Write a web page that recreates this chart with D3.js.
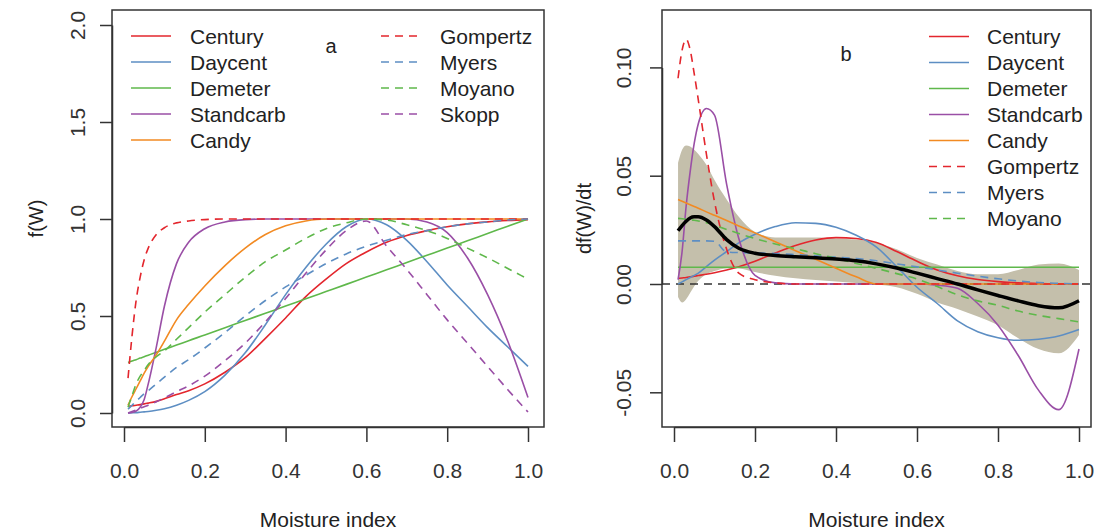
<!DOCTYPE html>
<html>
<head>
<meta charset="utf-8">
<script src="https://cdn.jsdelivr.net/npm/d3@7"></script>
<style>
body { margin: 0; background: #fff; }
text { font-family: "Liberation Sans", Arial, sans-serif; fill: #222; }
</style>
</head>
<body>
<div id="chart"></div>
<script>
// moisture index grid (shared by every curve)
var xs = [0.01, 0.02, 0.03, 0.04, 0.05, 0.06, 0.08, 0.10, 0.13, 0.16, 0.20, 0.25, 0.30, 0.35, 0.40,
          0.45, 0.50, 0.55, 0.60, 0.65, 0.70, 0.75, 0.80, 0.85, 0.90, 0.95, 1.00]

// panel a : f(W)
var centuryA   = [0.035,0.037,0.040,0.043,0.047,0.051,0.060,0.073,0.095,0.115,0.150,0.210,0.285,0.385,0.490,0.600,0.690,0.770,0.830,0.880,0.915,0.940,0.960,0.975,0.985,0.992,0.997]
var daycentA   = [0.000,0.001,0.002,0.004,0.006,0.008,0.014,0.022,0.040,0.065,0.110,0.195,0.310,0.455,0.610,0.750,0.870,0.960,1.000,0.970,0.890,0.780,0.660,0.550,0.440,0.340,0.240]
var demeterA   = [0.260,0.268,0.275,0.283,0.290,0.298,0.313,0.328,0.350,0.373,0.402,0.440,0.477,0.514,0.551,0.589,0.626,0.663,0.701,0.738,0.776,0.813,0.850,0.888,0.925,0.963,1.000]
var standcarbA = [0.000,0.003,0.010,0.030,0.070,0.150,0.340,0.550,0.770,0.880,0.950,0.985,0.997,1,1,1,1,1,1,1,1,0.985,0.930,0.800,0.610,0.370,0.080]
var candyA     = [0.040,0.085,0.125,0.165,0.205,0.240,0.300,0.370,0.480,0.560,0.655,0.760,0.850,0.920,0.965,0.990,1,1,1,1,1,1,1,1,1,1,1]
var gompertzA  = [0.180,0.400,0.580,0.700,0.790,0.850,0.920,0.955,0.980,0.990,0.997,1,1,1,1,1,1,1,1,1,1,1,1,1,1,1,1]
var myersA     = [0.020,0.040,0.060,0.080,0.100,0.115,0.150,0.185,0.235,0.275,0.335,0.415,0.500,0.580,0.650,0.710,0.770,0.820,0.860,0.890,0.920,0.940,0.960,0.975,0.985,0.995,1.000]
var moyanoA    = [0.030,0.090,0.150,0.190,0.220,0.250,0.290,0.320,0.380,0.440,0.520,0.610,0.700,0.780,0.840,0.900,0.950,0.980,1.000,0.995,0.970,0.940,0.900,0.850,0.800,0.745,0.690]
var skoppA     = [0.000,0.008,0.016,0.024,0.032,0.040,0.058,0.078,0.110,0.140,0.190,0.270,0.360,0.470,0.590,0.720,0.840,0.940,0.990,0.860,0.740,0.610,0.480,0.360,0.240,0.120,0.005]

// panel b : df(W)/dt
var centuryB   = [0.0026,0.0028,0.0030,0.0033,0.0036,0.0039,0.0045,0.0052,0.0065,0.0080,0.0105,0.0143,0.0178,0.0203,0.0214,0.0210,0.0192,0.0150,0.0105,0.0065,0.0038,0.0021,0.0011,0.0005,0.0002,0.0001,0.0000]
var daycentB   = [0.000,0.001,0.002,0.003,0.004,0.005,0.008,0.011,0.015,0.019,0.023,0.0265,0.0283,0.028,0.0262,0.0225,0.017,0.008,-0.0015,-0.009,-0.017,-0.022,-0.0248,-0.026,-0.0255,-0.024,-0.021]
var demeterB   = [0.0077,0.0077,0.0077,0.0077,0.0077,0.0077,0.0077,0.0077,0.0077,0.0077,0.0077,0.0077,0.0077,0.0077,0.0077,0.0077,0.0077,0.0077,0.0077,0.0077,0.0077,0.0077,0.0077,0.0077,0.0077,0.0077,0.0077]
var standcarbB = [0.002,0.015,0.036,0.052,0.065,0.074,0.081,0.078,0.046,0.021,0.004,0.0005,0,0,0,0,0,0,0,-0.0005,-0.002,-0.009,-0.019,-0.033,-0.049,-0.058,-0.030]
var candyB     = [0.0390,0.0382,0.0374,0.0366,0.0358,0.0350,0.0333,0.0317,0.0293,0.0268,0.0236,0.0195,0.0154,0.0114,0.0073,0.0033,0,0,0,0,0,0,0,0,0,0,0]
var gompertzB  = [0.095,0.108,0.113,0.108,0.097,0.085,0.060,0.038,0.016,0.005,0.002,0.0005,0,0,0,0,0,0,0,0,0,0,0,0,0,0,0]
var myersB     = [0.0199,0.0199,0.0199,0.0199,0.0199,0.0199,0.0199,0.0197,0.0148,0.0145,0.0143,0.0141,0.0136,0.0130,0.0124,0.0118,0.0107,0.0093,0.0079,0.0065,0.0050,0.0036,0.0024,0.0014,0.0007,0.0003,0.0000]
var moyanoB    = [0.0303,0.0301,0.0299,0.0297,0.0294,0.0291,0.0283,0.0272,0.0252,0.0233,0.0210,0.0185,0.0163,0.0140,0.0118,0.0095,0.0072,0.0048,0.0023,-0.0012,-0.0050,-0.0078,-0.0098,-0.0125,-0.0145,-0.0160,-0.0175]
var meanB      = [0.0246,0.0270,0.0290,0.0305,0.0310,0.0310,0.0295,0.0265,0.0205,0.0165,0.0142,0.0132,0.0126,0.0121,0.0115,0.0107,0.0093,0.0074,0.0050,0.0025,0.0000,-0.0027,-0.0053,-0.0078,-0.0100,-0.0110,-0.0077]
var bandHiB    = [0.056,0.062,0.064,0.0635,0.062,0.060,0.055,0.048,0.039,0.031,0.024,0.0215,0.0215,0.0215,0.021,0.0205,0.019,0.016,0.012,0.009,0.006,0.0045,0.0045,0.0065,0.009,0.0095,0.0065]
var bandLoB    = [-0.006,-0.0085,-0.007,-0.004,-0.001,0.0015,0.0045,0.006,0.0072,0.0072,0.0055,0.0038,0.0026,0.0018,0.0012,0.0005,-0.0002,-0.0015,-0.0045,-0.0085,-0.0115,-0.015,-0.019,-0.025,-0.030,-0.032,-0.0235]

// ticks
var xTicks = [0, 0.2, 0.4, 0.6, 0.8, 1.0]
var yTicksA = [0, 0.5, 1.0, 1.5, 2.0]
var yTicksB = [-0.05, 0, 0.05, 0.10]

// model styles
var colors = { Century: '#e3262d', Daycent: '#5d8ec3', Demeter: '#5fb84b', Standcarb: '#9a4fa6', Candy: '#f28a22',
               Gompertz: '#e3262d', Myers: '#5d8ec3', Moyano: '#5fb84b', Skopp: '#9a4fa6' }
var dashed = { Gompertz: true, Myers: true, Moyano: true, Skopp: true }

var seriesA = [
    { name: 'Century', v: centuryA }, { name: 'Daycent', v: daycentA }, { name: 'Demeter', v: demeterA },
    { name: 'Standcarb', v: standcarbA }, { name: 'Candy', v: candyA }, { name: 'Gompertz', v: gompertzA },
    { name: 'Myers', v: myersA }, { name: 'Moyano', v: moyanoA }, { name: 'Skopp', v: skoppA }
]
var seriesB = [
    { name: 'Century', v: centuryB }, { name: 'Daycent', v: daycentB }, { name: 'Demeter', v: demeterB },
    { name: 'Standcarb', v: standcarbB }, { name: 'Candy', v: candyB }, { name: 'Gompertz', v: gompertzB },
    { name: 'Myers', v: myersB }, { name: 'Moyano', v: moyanoB }
]

const fontSize = 21
// R prints a plain hyphen for negative numbers
const fmt = spec => { const f = d3.format(spec); return d => f(d).replace('\u2212', '-') }

const svg = d3.select('#chart').append('svg')
    .attr('width', 1099)
    .attr('height', 532)
    .style('background', '#fff')

const panels = [
    {
        box: { x0: 112, x1: 544, y0: 10, y1: 427 },
        x: d3.scaleLinear().domain([0, 1]).range([124, 528]),
        y: d3.scaleLinear().domain([0, 2]).range([413, 25]),
        yTicks: yTicksA, yFmt: fmt('.1f'), ylab: 'f(W)', ylabX: 36, tickLabOff: 35,
        letter: 'a', letterX: 331, letterY: 53
    },
    {
        box: { x0: 662, x1: 1091, y0: 10, y1: 427 },
        x: d3.scaleLinear().domain([0, 1]).range([674, 1079]),
        y: d3.scaleLinear().domain([0, 0.1]).range([284, 67.4]),
        yTicks: yTicksB, yFmt: fmt('.2f'), ylab: 'df(W)/dt', ylabX: 584, tickLabOff: 39,
        letter: 'b', letterX: 846, letterY: 61
    }
]

panels.forEach(p => {
    const g = svg.append('g')
    const b = p.box

    // x axis
    const xAxis = d3.axisBottom(p.x).tickValues(xTicks).tickSize(15).tickSizeOuter(0).tickFormat(fmt('.1f'))
    const gx = g.append('g').attr('transform', 'translate(0,' + b.y1 + ')').call(xAxis)
    gx.selectAll('text').attr('dy', 0).attr('y', 51).style('font-size', fontSize + 'px').style('fill', '#333')
    gx.selectAll('line, path').attr('stroke', '#333').attr('stroke-width', 1.5)

    // y axis with labels parallel to the axis
    const yAxis = d3.axisLeft(p.y).tickValues(p.yTicks).tickSize(12).tickSizeOuter(0).tickFormat(p.yFmt)
    const gy = g.append('g').attr('transform', 'translate(' + b.x0 + ',0)').call(yAxis)
    gy.selectAll('text')
        .attr('transform', 'rotate(-90)')
        .attr('x', 0).attr('y', -p.tickLabOff).attr('dy', '0.36em')
        .attr('text-anchor', 'middle')
        .style('font-size', fontSize + 'px').style('fill', '#333')
    gy.selectAll('line, path').attr('stroke', '#333').attr('stroke-width', 1.5)

    // axis titles
    g.append('text').attr('x', (b.x0 + b.x1) / 2).attr('y', 527)
        .attr('text-anchor', 'middle').style('font-size', fontSize + 'px').text('Moisture index')
    g.append('text').attr('transform', 'translate(' + p.ylabX + ',' + ((b.y0 + b.y1) / 2) + ') rotate(-90)')
        .attr('text-anchor', 'middle').attr('dy', '0.36em').style('font-size', '20px').text(p.ylab)

    p.g = g
})

const line = (x, y) => d3.line().x((d, i) => x(xs[i])).y(d => y(d)).curve(d3.curveMonotoneX)

function drawSeries(p, list, width) {
    p.g.append('g').selectAll('path')
        .data(list)
        .enter()
        .append('path')
        .attr('d', s => line(p.x, p.y)(s.v))
        .attr('fill', 'none')
        .attr('stroke', s => colors[s.name])
        .attr('stroke-width', width)
        .attr('stroke-dasharray', s => dashed[s.name] ? '8,6' : null)
}

function drawLegend(p, list, lx, tx, y0) {
    const rows = p.g.append('g').selectAll('g')
        .data(list)
        .enter()
        .append('g')
        .attr('transform', (s, i) => 'translate(0,' + (y0 + i * 26) + ')')
    rows.append('line')
        .attr('x1', lx).attr('x2', lx + 40).attr('y1', 0).attr('y2', 0)
        .attr('stroke', s => colors[s]).attr('stroke-width', 1.6)
        .attr('stroke-dasharray', s => dashed[s] ? '8,6' : null)
    rows.append('text').attr('x', tx).attr('y', 0).attr('dy', '0.36em')
        .style('font-size', fontSize + 'px').text(s => s)
}

// ---------- panel a ----------
const pa = panels[0]
drawSeries(pa, seriesA, 1.6)
drawLegend(pa, ['Century', 'Daycent', 'Demeter', 'Standcarb', 'Candy'], 131, 190, 36)
drawLegend(pa, ['Gompertz', 'Myers', 'Moyano', 'Skopp'], 381, 440, 36)

// ---------- panel b ----------
const pb = panels[1]
const band = d3.area()
    .x((d, i) => pb.x(xs[i]))
    .y0((d, i) => pb.y(bandLoB[i]))
    .y1(d => pb.y(d))
    .curve(d3.curveMonotoneX)
pb.g.append('path').attr('d', band(bandHiB)).attr('fill', '#c4bfab')

// zero reference line across the plot box
pb.g.append('line')
    .attr('x1', pb.box.x0).attr('x2', pb.box.x1)
    .attr('y1', pb.y(0)).attr('y2', pb.y(0))
    .attr('stroke', '#333').attr('stroke-width', 1.5).attr('stroke-dasharray', '8,6')

drawSeries(pb, seriesB, 1.6)
pb.g.append('path').attr('d', line(pb.x, pb.y)(meanB))
    .attr('fill', 'none').attr('stroke', '#000').attr('stroke-width', 3.5)

drawLegend(pb, seriesB.map(s => s.name), 929, 987, 36.5)

// boxes and panel letters on top
panels.forEach(p => {
    const b = p.box
    p.g.append('rect').attr('x', b.x0).attr('y', b.y0)
        .attr('width', b.x1 - b.x0).attr('height', b.y1 - b.y0)
        .attr('fill', 'none').attr('stroke', '#333').attr('stroke-width', 1.5)
    p.g.append('text').attr('x', p.letterX).attr('y', p.letterY)
        .attr('text-anchor', 'middle').style('font-size', '20px').text(p.letter)
})
</script>
</body>
</html>
